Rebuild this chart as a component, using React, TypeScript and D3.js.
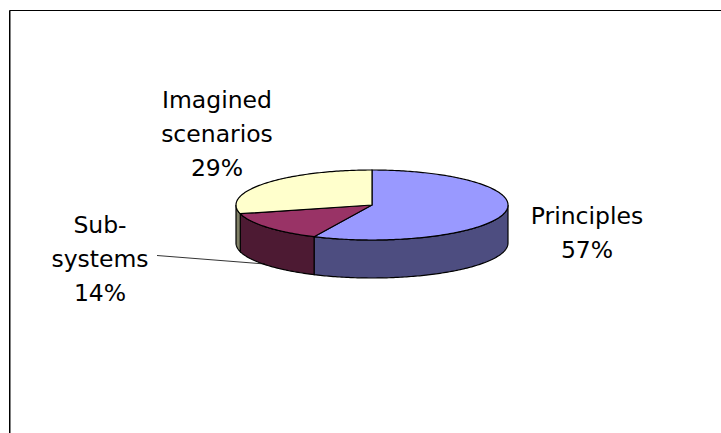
import React from "react";
import * as d3 from "d3";

const categories = ["Principles", "Sub-systems", "Imagined scenarios"];
const shares = [57, 14, 29];
const topColors = ["#9999ff", "#993366", "#ffffcc"];
const sideColors = ["#4d4d80", "#4d1a33", "#808066"];
const labelLines = [["Principles", "57%"], ["Sub-", "systems", "14%"], ["Imagined", "scenarios", "29%"]];
const labelAnchors = [[587, 224], [100, 233], [217, 108]];

const W = 721, H = 433;
const cx = 372, cy = 205, rx = 136, ry = 35, depth = 38;
const xs = d3.scaleLinear().domain([-1, 1]).range([cx - rx, cx + rx]);
const ys = d3.scaleLinear().domain([-1, 1]).range([cy - ry, cy + ry]);
const px = (a: number) => xs(Math.sin(a));
const py = (a: number) => ys(-Math.cos(a));

const arcs = d3.pie<number>().sort(null).startAngle(0).endAngle(2 * Math.PI)(shares);

function arcPts(a0: number, a1: number, dy = 0) {
  const n = Math.max(2, Math.ceil((a1 - a0) * 60));
  return d3.range(n + 1).map((i) => {
    const a = a0 + ((a1 - a0) * i) / n;
    return [px(a), py(a) + dy] as [number, number];
  });
}
const line = d3.line();

export default function App() {
  const frontLo = Math.PI / 2, frontHi = (3 * Math.PI) / 2;
  return (
    <svg width={W} height={H} style={{ position: "fixed", left: 0, top: 0, background: "#fff" }}>
      <path d={`M9.5,${H}V10.5H${W}`} fill="none" stroke="#000" strokeWidth={1} />
      <path d={`M10.5,${H}V11`} fill="none" stroke="#808080" strokeWidth={1} />
      {arcs.map((s, i) => {
        const a0 = Math.max(s.startAngle, frontLo), a1 = Math.min(s.endAngle, frontHi);
        if (a1 <= a0) return null;
        const pts = [...arcPts(a0, a1), ...arcPts(a0, a1, depth).reverse()];
        return <path key={i} d={line(pts)! + "Z"} fill={sideColors[i]} stroke="#000" strokeWidth={1.2} />;
      })}
      {arcs.map((s, i) => {
        const pts: [number, number][] = [[cx, cy], ...arcPts(s.startAngle, s.endAngle)];
        return <path key={i} d={line(pts)! + "Z"} fill={topColors[i]} stroke="#000" strokeWidth={1.2} data-name={categories[i]} />;
      })}
      <path d={line([[157, 255.5], [265, 264]])!} fill="none" stroke="#000" strokeWidth={0.8} />
      {labelLines.map((lines, i) => (
        <text key={i} textAnchor="middle" fontFamily="'DejaVu Sans', sans-serif" fontSize={23.5} fill="#000">
          {lines.map((t, j) => (
            <tspan key={j} x={labelAnchors[i][0]} y={labelAnchors[i][1] + j * 34}>{t}</tspan>
          ))}
        </text>
      ))}
    </svg>
  );
}
